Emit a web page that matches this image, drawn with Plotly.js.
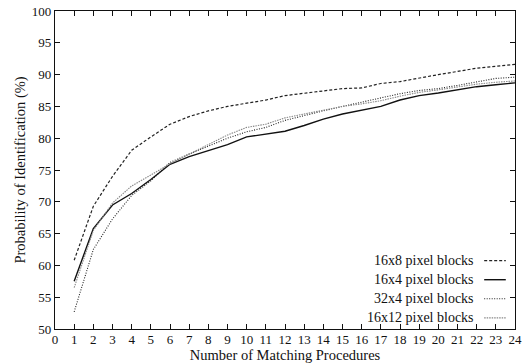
<!DOCTYPE html>
<html><head><meta charset="utf-8">
<script src="https://cdn.plot.ly/plotly-3.0.1.min.js"></script>
<style>html,body{margin:0;padding:0;background:#fff}</style>
</head><body>
<div id="chart" style="width:526px;height:364px"></div>
<script>
var procedures = [1,2,3,4,5,6,7,8,9,10,11,12,13,14,15,16,17,18,19,20,21,22,23,24];
var names = ["16x8 pixel blocks","16x4 pixel blocks","32x4 pixel blocks","16x12 pixel blocks"];
var s16x8  = [60.8,69.3,74.0,78.1,80.2,82.2,83.4,84.3,85.0,85.5,86.0,86.7,87.1,87.5,87.8,87.9,88.6,88.9,89.5,90.0,90.5,91.0,91.3,91.6];
var s16x4  = [57.5,65.8,69.5,71.3,73.5,75.9,77.1,78.0,79.0,80.2,80.7,81.1,82.0,83.0,83.8,84.4,85.0,86.0,86.7,87.1,87.6,88.1,88.4,88.7];
var s32x4  = [52.7,62.5,67.3,71.0,73.3,76.2,77.5,78.8,80.0,81.0,81.7,82.8,83.6,84.3,85.0,85.7,86.3,87.0,87.5,87.8,88.3,88.8,89.4,89.6];
var s16x12 = [56.5,65.5,69.8,72.5,74.2,76.0,77.5,79.0,80.5,81.7,82.2,83.2,83.8,84.3,85.0,85.4,85.9,86.6,87.2,87.6,88.1,88.5,88.8,89.0];
var xTicks = [0,1,2,3,4,5,6,7,8,9,10,11,12,13,14,15,16,17,18,19,20,21,22,23,24];
var yTicks = [50,55,60,65,70,75,80,85,90,95,100];

var series = [s16x8, s16x4, s32x4, s16x12];
var styles = [
  {color:"#222", dash:"3px,2px", width:1.2},
  {color:"#111", dash:"solid", width:1.4},
  {color:"#222", dash:"1px,1.5px", width:1.1},
  {color:"#888", dash:"1.5px,1px", width:1.1}
];
var traces = series.map(function(s,i){
  return {x:procedures, y:s, name:names[i], type:"scatter", mode:"lines",
          line:{color:styles[i].color, dash:styles[i].dash, width:styles[i].width}, showlegend:false};
});

var font = {family:"Liberation Serif, Times New Roman, serif", size:13, color:"#111"};
var annotations = [], shapes = [];
var legTop = 0.215, legStep = 0.06;
names.forEach(function(n,i){
  var yy = legTop - i*legStep;
  annotations.push({xref:"paper", yref:"paper", x:0.915, y:yy, text:n, showarrow:false,
    xanchor:"right", yanchor:"middle", font:{family:font.family, size:14, color:"#111"}});
  shapes.push({type:"line", xref:"paper", yref:"paper", x0:0.933, x1:0.98, y0:yy, y1:yy,
    line:{color:styles[i].color, dash:styles[i].dash, width:styles[i].width}});
});

var layout = {
  width:526, height:364,
  margin:{l:55, r:11, t:11, b:35},
  paper_bgcolor:"#fff", plot_bgcolor:"#fff",
  font:font,
  showlegend:false,
  xaxis:{range:[0,24], tickvals:xTicks, ticktext:xTicks.map(String), ticks:"inside", ticklen:5,
         tickcolor:"#111", mirror:"ticks", showline:true, linecolor:"#111", linewidth:1.2,
         showgrid:false, zeroline:false, tickfont:{family:font.family,size:13,color:"#111"},
         ticklabelstandoff:-2,
         title:{text:"Number of Matching Procedures", font:{family:font.family,size:14.5,color:"#111"}, standoff:3}},
  yaxis:{range:[50,100], tickvals:yTicks, ticks:"inside", ticklen:5, tickcolor:"#111",
         mirror:"ticks", showline:true, linecolor:"#111", linewidth:1.2,
         showgrid:false, zeroline:false, tickfont:{family:font.family,size:13,color:"#111"},
         title:{text:"Probability of Identification (%)", font:{family:font.family,size:14.5,color:"#111"}, standoff:2}},
  annotations:annotations,
  shapes:shapes
};
Plotly.newPlot("chart", traces, layout, {staticPlot:true, displayModeBar:false});
</script>
</body></html>
